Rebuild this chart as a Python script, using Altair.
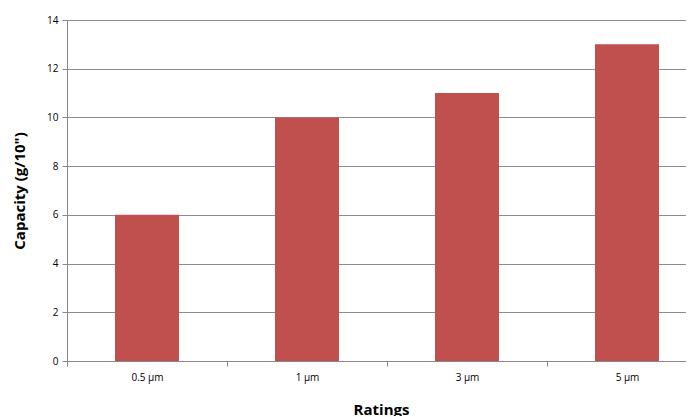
import altair as alt
import pandas as pd

ratings = ["0.5 μm", "1 μm", "3 μm", "5 μm"]
capacity = [6, 10, 11, 13]

df = pd.DataFrame({"Ratings": ratings, "Capacity": capacity})

font = "Open Sans"
chart = alt.Chart(df).mark_bar(color="#C0504D", width=alt.RelativeBandSize(0.4)).encode(
    x=alt.X("Ratings:N", sort=ratings,
            scale=alt.Scale(paddingInner=0, paddingOuter=0, range=[0, 640]),
            axis=alt.Axis(title="Ratings", labelAngle=0, tickBand="extent",
                          labelFont=font, labelFontSize=10, labelColor="#000000",
                          labelPadding=6, tickSize=5, tickColor="#888888",
                          domainColor="#888888", grid=False,
                          titleFont=font, titleFontSize=15, titleFontWeight="bold",
                          titleColor="#000000", titlePadding=20, titleX=314)),
    y=alt.Y("Capacity:Q", scale=alt.Scale(domain=[0, 14]),
            axis=alt.Axis(title='Capacity (g/10")', values=[0, 2, 4, 6, 8, 10, 12, 14],
                          labelFont=font, labelFontSize=10, labelColor="#000000",
                          labelPadding=4, tickSize=5, tickColor="#888888",
                          domainColor="#888888", gridColor="#8c8c8c",
                          titleFont=font, titleFontSize=15, titleFontWeight="bold",
                          titleColor="#000000", titlePadding=19)),
).properties(
    width=619, height=341,
    autosize=alt.AutoSizeParams(type="none"),
    padding={"left": 59, "top": 12, "right": 0, "bottom": 55},
).configure_view(stroke=None)

chart.save("out.html", embed_options={"renderer": "svg", "actions": False})
